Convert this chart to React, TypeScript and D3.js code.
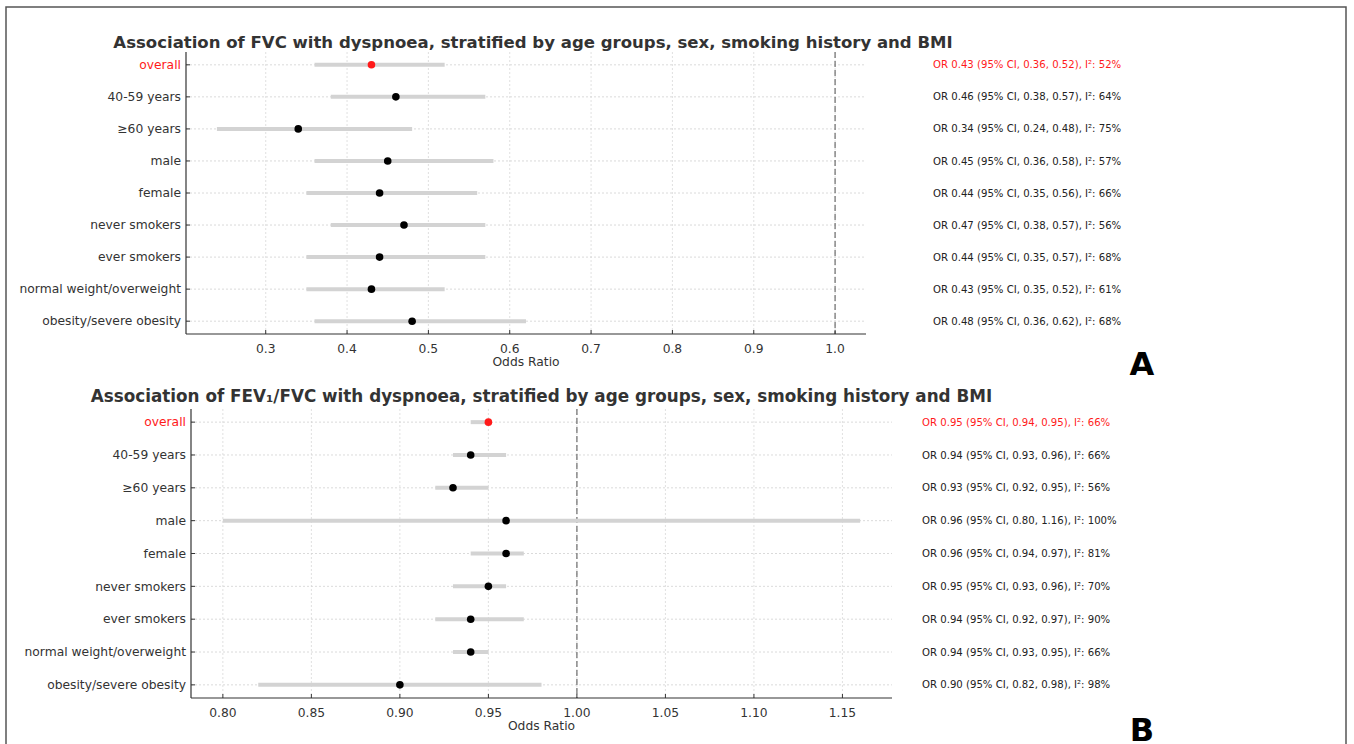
import React, { useEffect, useRef } from 'react';
import * as d3 from 'd3';

const categories = [
  'overall',
  '40-59 years',
  '≥60 years',
  'male',
  'female',
  'never smokers',
  'ever smokers',
  'normal weight/overweight',
  'obesity/severe obesity',
];

// Panel A: FVC
const fvcOR = [0.43, 0.46, 0.34, 0.45, 0.44, 0.47, 0.44, 0.43, 0.48];
const fvcLo = [0.36, 0.38, 0.24, 0.36, 0.35, 0.38, 0.35, 0.35, 0.36];
const fvcHi = [0.52, 0.57, 0.48, 0.58, 0.56, 0.57, 0.57, 0.52, 0.62];
const fvcI2 = [52, 64, 75, 57, 66, 56, 68, 61, 68];
const fvcTicks = [0.3, 0.4, 0.5, 0.6, 0.7, 0.8, 0.9, 1.0];

// Panel B: FEV1/FVC
const ratioOR = [0.95, 0.94, 0.93, 0.96, 0.96, 0.95, 0.94, 0.94, 0.9];
const ratioLo = [0.94, 0.93, 0.92, 0.8, 0.94, 0.93, 0.92, 0.93, 0.82];
const ratioHi = [0.95, 0.96, 0.95, 1.16, 0.97, 0.96, 0.97, 0.95, 0.98];
const ratioI2 = [66, 66, 56, 100, 81, 70, 90, 66, 98];
const ratioTicks = [0.8, 0.85, 0.9, 0.95, 1.0, 1.05, 1.1, 1.15];

interface PanelCfg {
  title: string;
  titleSize: number;
  titleX: number;
  or: number[];
  lo: number[];
  hi: number[];
  i2: number[];
  ticks: number[];
  fmt: string;
  domain: [number, number];
  left: number;
  right: number;
  top: number;
  bottom: number;
  titleY: number;
  textX: number;
  letter: string;
  letterY: number;
}

const FONT = 'DejaVu Sans, sans-serif';
const RED = '#ff1a1a';

function drawPanel(svg: d3.Selection<SVGSVGElement, unknown, null, undefined>, p: PanelCfg) {
  const x = d3.scaleLinear().domain(p.domain).range([p.left, p.right]);
  const y = d3.scaleLinear().domain([-0.4, categories.length - 0.6]).range([p.top, p.bottom]);
  const g = svg.append('g');
  const idx = d3.range(categories.length);

  // vertical grid
  g.selectAll('.vg').data(p.ticks).join('line')
    .attr('x1', d => x(d)).attr('x2', d => x(d))
    .attr('y1', p.top).attr('y2', p.bottom)
    .attr('stroke', '#d8d8d8').attr('stroke-width', 0.8).attr('stroke-dasharray', '2,2');

  // horizontal grid
  g.selectAll('.hg').data(idx).join('line')
    .attr('x1', p.left).attr('x2', p.right)
    .attr('y1', d => y(d)).attr('y2', d => y(d))
    .attr('stroke', '#d0d0d0').attr('stroke-width', 0.8).attr('stroke-dasharray', '2,2');

  // reference line at 1
  g.append('line')
    .attr('x1', x(1)).attr('x2', x(1))
    .attr('y1', p.top).attr('y2', p.bottom)
    .attr('stroke', '#777').attr('stroke-width', 1.3).attr('stroke-dasharray', '6,3');

  // CI bars
  g.selectAll('.ci').data(idx).join('line')
    .attr('x1', d => x(p.lo[d])).attr('x2', d => x(p.hi[d]))
    .attr('y1', d => y(d)).attr('y2', d => y(d))
    .attr('stroke', '#d3d3d3').attr('stroke-width', 4);

  // points
  g.selectAll('.pt').data(idx).join('circle')
    .attr('cx', d => x(p.or[d])).attr('cy', d => y(d)).attr('r', 3.8)
    .attr('fill', d => (d === 0 ? RED : '#000'));

  // spines
  g.append('line').attr('x1', p.left).attr('x2', p.left).attr('y1', p.top).attr('y2', p.bottom)
    .attr('stroke', '#333').attr('stroke-width', 1.2);
  g.append('line').attr('x1', p.left).attr('x2', p.right).attr('y1', p.bottom).attr('y2', p.bottom)
    .attr('stroke', '#333').attr('stroke-width', 1.2);

  // y ticks (inward)
  g.selectAll('.yt').data(idx).join('line')
    .attr('x1', p.left).attr('x2', p.left + 4)
    .attr('y1', d => y(d)).attr('y2', d => y(d))
    .attr('stroke', '#333').attr('stroke-width', 1);

  // x ticks (inward)
  g.selectAll('.xt').data(p.ticks).join('line')
    .attr('x1', d => x(d)).attr('x2', d => x(d))
    .attr('y1', p.bottom).attr('y2', p.bottom - 4)
    .attr('stroke', '#333').attr('stroke-width', 1);

  // y labels
  g.selectAll('.yl').data(idx).join('text')
    .attr('x', p.left - 5).attr('y', d => y(d)).attr('dy', '0.35em')
    .attr('text-anchor', 'end').attr('font-family', FONT).attr('font-size', 12.3)
    .attr('fill', d => (d === 0 ? RED : '#333'))
    .text(d => categories[d]);

  // x labels
  g.selectAll('.xl').data(p.ticks).join('text')
    .attr('x', d => x(d)).attr('y', p.bottom + 19)
    .attr('text-anchor', 'middle').attr('font-family', FONT).attr('font-size', 12.3)
    .attr('fill', '#333')
    .text(d => d3.format(p.fmt)(d));

  g.append('text')
    .attr('x', (p.left + p.right) / 2).attr('y', p.bottom + 32)
    .attr('text-anchor', 'middle').attr('font-family', FONT).attr('font-size', 12.3)
    .attr('fill', '#333').text('Odds Ratio');

  // title
  g.append('text')
    .attr('x', p.titleX).attr('y', p.titleY)
    .attr('text-anchor', 'middle').attr('font-family', FONT).attr('font-size', p.titleSize)
    .attr('font-weight', 'bold').attr('fill', '#333').text(p.title);

  // right-side annotations
  g.selectAll('.ann').data(idx).join('text')
    .attr('x', p.textX).attr('y', d => y(d)).attr('dy', '0.35em')
    .attr('font-family', FONT).attr('font-size', 10.15)
    .attr('fill', d => (d === 0 ? RED : '#222'))
    .text(d => `OR ${p.or[d].toFixed(2)} (95% CI, ${p.lo[d].toFixed(2)}, ${p.hi[d].toFixed(2)}), I²: ${p.i2[d]}%`);

  // panel letter
  g.append('text')
    .attr('x', 1142).attr('y', p.letterY)
    .attr('text-anchor', 'middle').attr('font-family', FONT).attr('font-size', 32)
    .attr('font-weight', 'bold').attr('fill', '#000').text(p.letter);
}

export default function App() {
  const svgRef = useRef<SVGSVGElement>(null);

  useEffect(() => {
    if (!svgRef.current) return;
    const svg = d3.select(svgRef.current);
    svg.selectAll('*').remove();

    svg.append('rect').attr('width', 1354).attr('height', 744).attr('fill', '#fff');
    // outer frame
    svg.append('rect')
      .attr('x', 6).attr('y', 7).attr('width', 1340).attr('height', 760)
      .attr('fill', 'none').attr('stroke', '#555').attr('stroke-width', 1.5);

    drawPanel(svg, {
      title: 'Association of FVC with dyspnoea, stratified by age groups, sex, smoking history and BMI',
      titleSize: 16.55, titleX: 533,
      or: fvcOR, lo: fvcLo, hi: fvcHi, i2: fvcI2, ticks: fvcTicks, fmt: '.1f',
      domain: [0.202, 1.038], left: 186, right: 866, top: 52, bottom: 334,
      titleY: 48, textX: 933, letter: 'A', letterY: 375,
    });

    drawPanel(svg, {
      title: 'Association of FEV₁/FVC with dyspnoea, stratified by age groups, sex, smoking history and BMI',
      titleSize: 16.8, titleX: 541.5,
      or: ratioOR, lo: ratioLo, hi: ratioHi, i2: ratioI2, ticks: ratioTicks, fmt: '.2f',
      domain: [0.782, 1.178], left: 191, right: 892, top: 409, bottom: 698,
      titleY: 402, textX: 922, letter: 'B', letterY: 741,
    });
  }, []);

  return (
    <div style={{ position: 'absolute', left: 0, top: 0 }}>
      <svg ref={svgRef} width={1354} height={744} style={{ display: 'block' }} />
    </div>
  );
}
